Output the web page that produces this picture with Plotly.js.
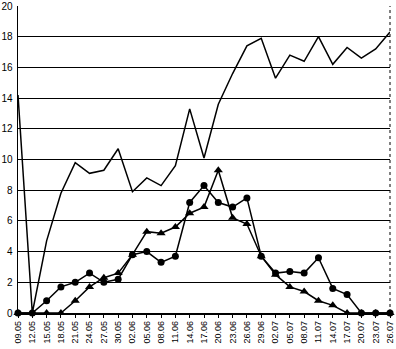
<!DOCTYPE html>
<html><head><meta charset="utf-8">
<script src="https://cdn.plot.ly/plotly-3.0.1.min.js"></script>
<style>html,body{margin:0;padding:0;background:#fff}</style>
</head><body><div id="chart" style="width:396px;height:349px"></div>
<script>
var dates = ["09.05","12.05","15.05","18.05","21.05","24.05","27.05","30.05","02.06","05.06","08.06","11.06","14.06","17.06","20.06","23.06","26.06","29.06","02.07","05.07","08.07","11.07","14.07","17.07","20.07","23.07","26.07"];
var lineSeries = [14.2,0,4.7,7.8,9.8,9.1,9.3,10.7,7.9,8.8,8.3,9.6,13.3,10.1,13.6,15.6,17.4,17.9,15.3,16.8,16.4,18.0,16.2,17.3,16.6,17.2,18.3];
var circleSeries = [0,0,0.8,1.7,2.0,2.6,2.0,2.2,3.8,4.0,3.3,3.7,7.2,8.3,7.2,6.9,7.5,3.7,2.6,2.7,2.6,3.6,1.6,1.2,0,0,0];
var triangleSeries = [0,0,0,0,0.8,1.7,2.3,2.6,3.8,5.3,5.2,5.6,6.5,6.9,9.3,6.2,5.8,3.7,2.5,1.7,1.4,0.8,0.5,0,0,0,0];
var yTicks = [0,2,4,6,8,10,12,14,16,18,20];

var traces = [
  {x: dates, y: lineSeries, type:'scatter', mode:'lines', line:{color:'#000', width:1.5}, cliponaxis:false},
  {x: dates, y: circleSeries, type:'scatter', mode:'lines+markers', line:{color:'#000', width:1.5},
   marker:{symbol:'circle', size:7, color:'#000'}, cliponaxis:false},
  {x: dates, y: triangleSeries, type:'scatter', mode:'lines+markers', line:{color:'#000', width:1.5},
   marker:{symbol:'triangle-up', size:8, color:'#000'}, cliponaxis:false}
];
var layout = {
  width:396, height:349,
  margin:{l:18, r:6, t:6, b:36},
  paper_bgcolor:'#fff', plot_bgcolor:'#fff',
  showlegend:false,
  font:{family:'Liberation Sans, Arial, sans-serif', size:10, color:'#000'},
  xaxis:{type:'category', range:[0,26], tickangle:-90, showgrid:false,
    showline:true, linecolor:'#000', linewidth:1.5, ticks:'outside', ticklen:3, tickcolor:'#000',
    tickfont:{size:9}, zeroline:false, ticklabeloverflow:'allow'},
  yaxis:{range:[0,20], tickvals:yTicks, ticktext:yTicks.map(String), showgrid:true, gridcolor:'#000', gridwidth:1,
    showline:true, linecolor:'#000', linewidth:1.5, ticks:'', zeroline:false, tickfont:{size:10}, ticklabelstandoff:2,
    ticklabeloverflow:'allow'},
  shapes:[{type:'line', xref:'paper', yref:'paper', x0:1, x1:1, y0:0, y1:1, line:{color:'#000', width:1, dash:'dot'}}]
};
Plotly.newPlot('chart', traces, layout, {displayModeBar:false, staticPlot:true});
</script></body></html>
